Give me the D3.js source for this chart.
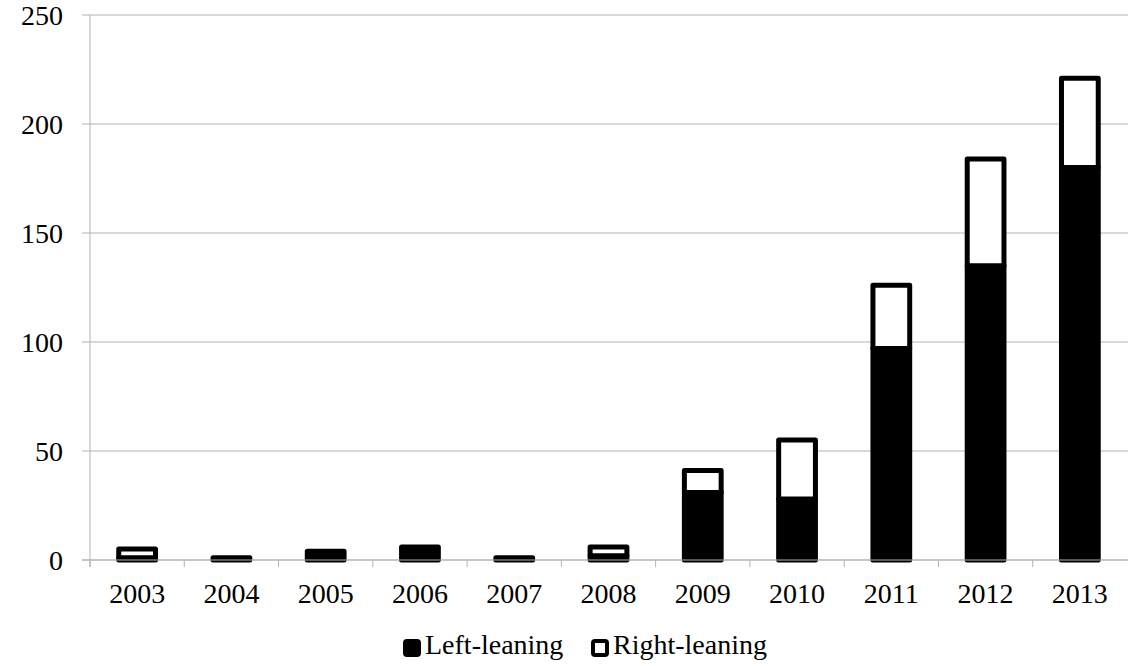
<!DOCTYPE html>
<html>
<head>
<meta charset="utf-8">
<script src="https://cdn.jsdelivr.net/npm/d3@7"></script>
<style>
  body { margin: 0; background: #fff; }
  text { font-family: "Liberation Serif", "DejaVu Serif", serif; fill: #000; }
</style>
</head>
<body>
<div id="container"></div>
<script>
const width = 1128, height = 666;
const margin = {top: 15, right: 1, bottom: 106, left: 90};
const fontSize = '28px';

const years = ['2003', '2004', '2005', '2006', '2007', '2008', '2009', '2010', '2011', '2012', '2013'];
const leftLeaning = [1, 1, 4, 6, 1, 2, 31, 28, 97, 135, 180];
const rightLeaning = [4, 0, 0, 0, 0, 4, 10, 27, 29, 49, 41];
const seriesNames = ['Left-leaning', 'Right-leaning'];
const yTicks = [0, 50, 100, 150, 200, 250];

const rows = years.map((y, i) => ({year: y, 'Left-leaning': leftLeaning[i], 'Right-leaning': rightLeaning[i]}));

const svg = d3.select('#container').append('svg')
    .attr('width', width)
    .attr('height', height);

const x = d3.scaleBand()
    .domain(years)
    .range([margin.left, width - margin.right])
    .paddingInner(0.61)
    .paddingOuter(0.305);

const y = d3.scaleLinear()
    .domain([0, 250])
    .range([height - margin.bottom, margin.top]);

const fills = {'Left-leaning': '#000', 'Right-leaning': '#fff'};

// gridlines
svg.append('g')
    .selectAll('line')
    .data(yTicks)
    .join('line')
        .attr('x1', margin.left - 8)
        .attr('x2', width)
        .attr('y1', d => y(d))
        .attr('y2', d => y(d))
        .attr('stroke', '#b3b3b3')
        .attr('stroke-width', 1);

svg.append('g')
    .selectAll('text')
    .data(yTicks)
    .join('text')
        .attr('x', 63)
        .attr('y', d => y(d))
        .attr('dy', '0.35em')
        .attr('text-anchor', 'end')
        .style('font-size', fontSize)
        .text(d => d);

// bars
const stacked = d3.stack().keys(seriesNames)(rows);

svg.append('g')
    .selectAll('g')
    .data(stacked)
    .join('g')
        .attr('fill', d => fills[d.key])
    .selectAll('rect')
    .data(d => d.filter(p => p[1] - p[0] > 0))
    .join('rect')
        .attr('x', d => x(d.data.year))
        .attr('width', x.bandwidth())
        .attr('y', d => y(d[1]))
        .attr('height', d => y(d[0]) - y(d[1]))
        .attr('stroke', '#000')
        .attr('stroke-width', 5)
        .attr('stroke-linejoin', 'round');

// axes lines on top
const axisY = y(0);
svg.append('line')
    .attr('x1', margin.left).attr('x2', margin.left)
    .attr('y1', margin.top).attr('y2', axisY + 7)
    .attr('stroke', '#b3b3b3');

svg.append('line')
    .attr('x1', margin.left - 8).attr('x2', width)
    .attr('y1', axisY).attr('y2', axisY)
    .attr('stroke', '#b3b3b3');

const step = x.step();
svg.append('g')
    .selectAll('line')
    .data(years)
    .join('line')
        .attr('x1', d => x(d) - x.paddingInner() * step / 2)
        .attr('x2', d => x(d) - x.paddingInner() * step / 2)
        .attr('y1', axisY)
        .attr('y2', axisY + 7)
        .attr('stroke', '#b3b3b3');

svg.append('g')
    .selectAll('text')
    .data(years)
    .join('text')
        .attr('x', d => x(d) + x.bandwidth() / 2)
        .attr('y', 603)
        .attr('text-anchor', 'middle')
        .style('font-size', fontSize)
        .text(d => d);

// legend
const legendX = [403, 591];
const legend = svg.append('g')
    .selectAll('g')
    .data(seriesNames)
    .join('g')
        .attr('transform', (d, i) => `translate(${legendX[i]}, 654)`);

legend.append('rect')
    .attr('x', 2)
    .attr('y', -13)
    .attr('width', 14)
    .attr('height', 14)
    .attr('rx', 2)
    .attr('fill', d => fills[d])
    .attr('stroke', '#000')
    .attr('stroke-width', 4)
    .attr('stroke-linejoin', 'round');

legend.append('text')
    .attr('x', 22)
    .attr('y', 0)
    .style('font-size', fontSize)
    .text(d => d);
</script>
</body>
</html>
